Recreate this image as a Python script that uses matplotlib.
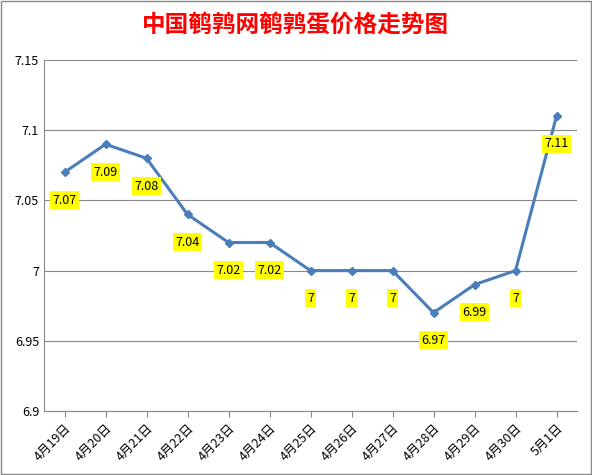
import matplotlib.pyplot as plt
import numpy as np

plt.rcParams['font.family'] = ['Noto Sans CJK SC', 'DejaVu Sans']

dates = ['4月19日', '4月20日', '4月21日', '4月22日', '4月23日', '4月24日', '4月25日',
         '4月26日', '4月27日', '4月28日', '4月29日', '4月30日', '5月1日']
prices = [7.07, 7.09, 7.08, 7.04, 7.02, 7.02, 7.00, 7.00, 7.00, 6.97, 6.99, 7.00, 7.11]
labels = ['7.07', '7.09', '7.08', '7.04', '7.02', '7.02', '7', '7', '7', '6.97', '6.99', '7', '7.11']

fig = plt.figure(figsize=(5.92, 4.75), dpi=100)
fig.patches.append(plt.Rectangle((0.002, 0.002), 0.996, 0.996, transform=fig.transFigure,
                                 fill=False, edgecolor='#888888', linewidth=1))
ax = fig.add_axes([44 / 592, 1 - 411 / 475, 533 / 592, 351 / 475])

x = np.arange(len(dates))
ax.plot(x, prices, color='#4a7ebb', linewidth=2.2, marker='D', markersize=4.5)
for xi, yi, lab in zip(x, prices, labels):
    ax.annotate(lab, (xi, yi), xytext=(0, -20), textcoords='offset points', ha='center',
                va='center', fontsize=9,
                bbox=dict(boxstyle='square,pad=0.2', facecolor='#ffff00', edgecolor='none'))

ax.set_xlim(-0.5, len(dates) - 0.5)
ax.set_ylim(6.9, 7.15)
ax.set_yticks([6.9, 6.95, 7.0, 7.05, 7.1, 7.15])
ax.set_yticklabels(['6.9', '6.95', '7', '7.05', '7.1', '7.15'], fontsize=9)
ax.set_xticks(x)
ax.set_xticklabels(dates, rotation=45, ha='right', rotation_mode='anchor', fontsize=9)
ax.tick_params(axis='y', length=0)
ax.tick_params(axis='x', length=4, color='#888888')
ax.grid(axis='y', color='#888888', linewidth=0.8)
for s in ['top', 'right']:
    ax.spines[s].set_visible(False)
ax.spines['left'].set_color('#888888')
ax.spines['bottom'].set_color('#888888')

fig.text(0.5, 1 - 25 / 475, '中国鹌鹑网鹌鹑蛋价格走势图', ha='center', va='center',
         color='#ff0000', fontsize=17, fontweight='bold')

fig.savefig('out.png', dpi=100)
